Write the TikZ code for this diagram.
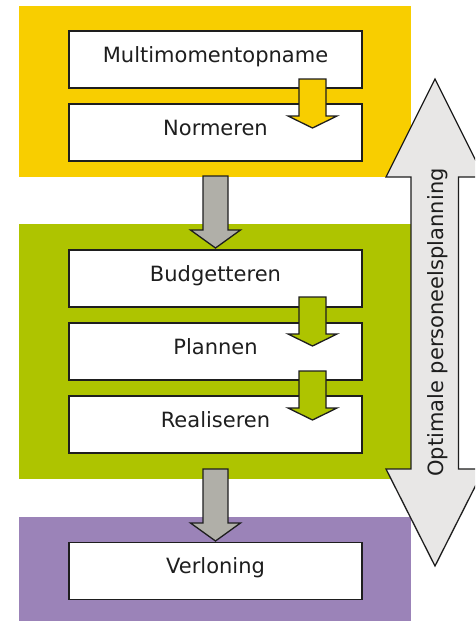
\documentclass[tikz,border=0pt]{standalone}
\usepackage{fontspec}
\setmainfont{DejaVu Sans}
\usetikzlibrary{calc}
\definecolor{bandyellow}{RGB}{248,206,0}
\definecolor{bandgreen}{RGB}{174,196,0}
\definecolor{bandpurple}{RGB}{155,131,184}
\definecolor{arrowgray}{RGB}{176,175,168}
\definecolor{arrowlight}{RGB}{232,231,230}
\definecolor{inkc}{RGB}{30,30,30}
\begin{document}
\begin{tikzpicture}[x=1pt,y=-1pt,
  band/.style={fill=#1, draw=none, inner sep=0pt, minimum width=392pt},
  stepbox/.style={draw=inkc, line width=1.3pt, fill=white, minimum width=293pt,
    minimum height=57pt, inner sep=0pt, text height=15pt, text depth=10pt,
    font=\fontsize{21}{25}\selectfont, text=inkc},
  blockdown/.style n args={4}{fill=#4, draw=inkc, line width=1.3pt, line join=miter,
    to path={($(\tikztostart)+(-#1,0)$) -- ($(\tikztotarget)+(-#1,-#3)$)
      -- ($(\tikztotarget)+(-#2,-#3)$) -- (\tikztotarget)
      -- ($(\tikztotarget)+(#2,-#3)$) -- ($(\tikztotarget)+(#1,-#3)$)
      -- ($(\tikztostart)+(#1,0)$) -- cycle}},
  smallarrow/.style={blockdown={13.5}{24.5}{12}{#1}},
  grayarrow/.style={blockdown={12.5}{25}{18}{arrowgray}}]
\useasboundingbox (0,0) rectangle (475,621);
\clip (0,0) rectangle (475,621);
\fill[white] (0,0) rectangle (475,621);
% bands
\node[band=bandyellow, minimum height=171pt] (yel) at (215,91.5) {};
\node[band=bandgreen, minimum height=255pt] (grn) at (215,351.5) {};
\node[band=bandpurple, minimum height=104pt] (pur) at (215,569) {};
% boxes
\node[stepbox] (mmo) at (215.5,59.5) {Multimomentopname};
\node[stepbox] (nor) at (215.5,132.5) {Normeren};
\node[stepbox] (bud) at (215.5,278.5) {Budgetteren};
\node[stepbox] (pla) at (215.5,351.5) {Plannen};
\node[stepbox] (rea) at (215.5,424.5) {Realiseren};
\node[stepbox] (ver) at (215.5,571) {Verloning};
% arrow end points
\coordinate (s1a) at (312.5,79);  \coordinate (s1b) at (312.5,128);
\coordinate (s2a) at (312.5,297); \coordinate (s2b) at (312.5,346);
\coordinate (s3a) at (312.5,371); \coordinate (s3b) at (312.5,420);
\coordinate (g1a) at (215.5,176); \coordinate (g1b) at (215.5,248);
\coordinate (g2a) at (215.5,469); \coordinate (g2b) at (215.5,541);
% small arrows
\draw[smallarrow=bandyellow] (s1a) to (s1b);
\draw[smallarrow=bandgreen] (s2a) to (s2b);
\draw[smallarrow=bandgreen] (s3a) to (s3b);
% gray arrows
\draw[grayarrow] (g1a) to (g1b);
\draw[grayarrow] (g2a) to (g2b);
% big double arrow
\draw[fill=arrowlight, draw=inkc, line width=1.3pt, line join=miter]
  (435,79) -- (484,177) -- (458.5,177) -- (458.5,469) -- (484,469) -- (435,566)
  -- (386,469) -- (411,469) -- (411,177) -- (386,177) -- cycle;
\node[rotate=90, anchor=base, inner sep=0pt, text=inkc,
  font=\fontsize{21}{25}\selectfont] (opt) at (443,322.5) {Optimale personeelsplanning};
\end{tikzpicture}
\end{document}
